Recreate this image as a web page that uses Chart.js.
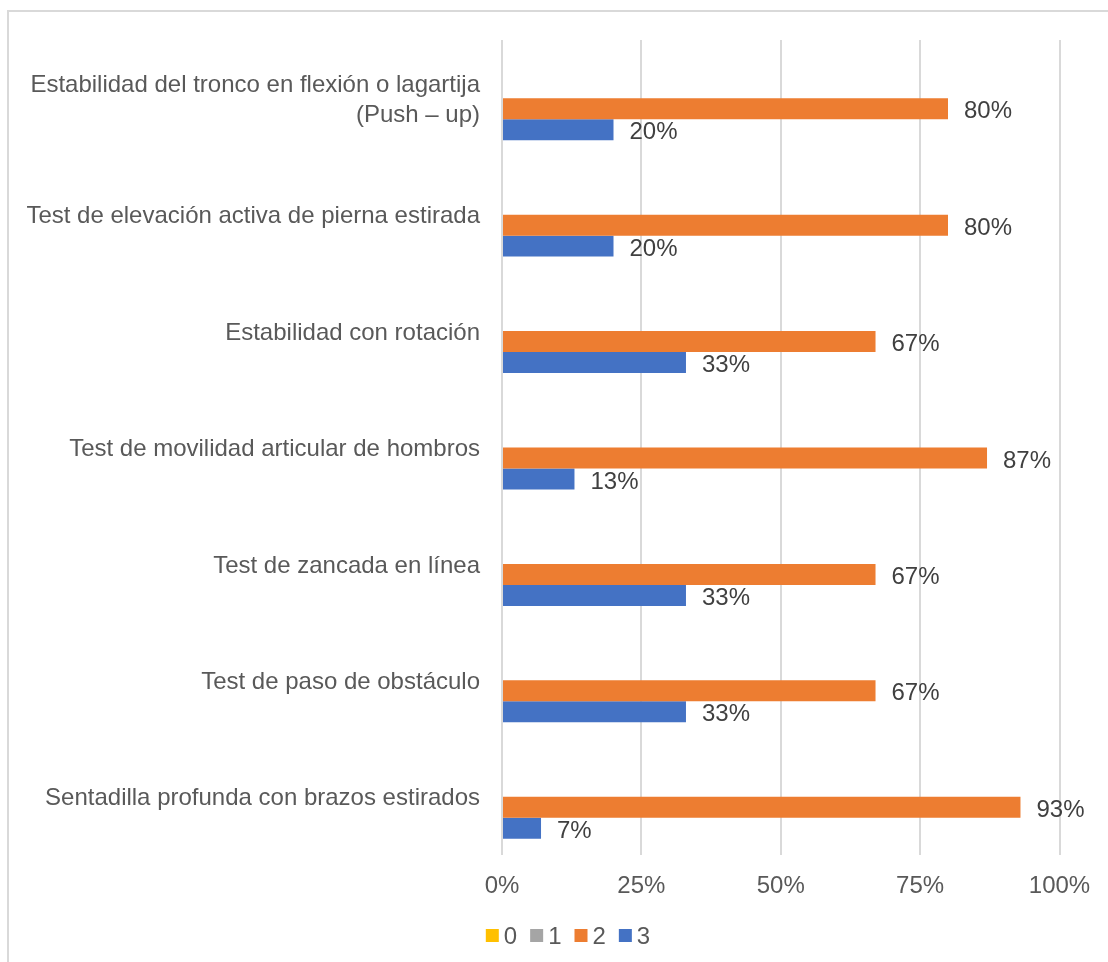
<!DOCTYPE html>
<html>
<head>
<meta charset="utf-8">
<script src="https://cdn.jsdelivr.net/npm/chart.js@4/dist/chart.umd.min.js"></script>
<style>
  html, body { margin: 0; padding: 0; background: #fff; overflow: hidden; }
  #wrap { position: relative; width: 1108px; height: 962px; }
  #frame { position: absolute; left: 7px; top: 10px; width: 1200px; height: 1000px;
           border-left: 2px solid #d9d9d9; border-top: 2px solid #d9d9d9; box-sizing: border-box; }
  canvas { position: absolute; left: 0; top: 0; }
</style>
</head>
<body>
<div id="wrap">
  <div id="frame"></div>
  <canvas id="c" width="1108" height="962"></canvas>
</div>
<script>
// Movement screen tests
const categories = [
  ['Estabilidad del tronco en flexión o lagartija', '(Push – up)'],
  'Test de elevación activa de pierna estirada',
  'Estabilidad con rotación',
  'Test de movilidad articular de hombros',
  'Test de zancada en línea',
  'Test de paso de obstáculo',
  'Sentadilla profunda con brazos estirados'
];

// Share of participants per score (%)
const score0 = [0, 0, 0, 0, 0, 0, 0];
const score1 = [0, 0, 0, 0, 0, 0, 0];
const score2 = [80, 80, 67, 87, 67, 67, 93];
const score3 = [20, 20, 33, 13, 33, 33, 7];

const seriesNames = ['0', '1', '2', '3'];
const xTicks = [0, 25, 50, 75, 100];

const FONT = '"Liberation Sans", Arial, Helvetica, sans-serif';
const colors = ['#FFC000', '#A5A5A5', '#ED7D31', '#4472C4'];

// Value labels just past the end of each non-zero bar
const valueLabels = {
  id: 'valueLabels',
  afterDatasetsDraw(chart) {
    const ctx = chart.ctx;
    ctx.save();
    ctx.font = '24px ' + FONT;
    ctx.fillStyle = '#404040';
    ctx.textAlign = 'left';
    ctx.textBaseline = 'middle';
    chart.data.datasets.forEach((ds, i) => {
      const meta = chart.getDatasetMeta(i);
      meta.data.forEach((bar, j) => {
        const v = ds.data[j];
        if (!v) return;
        ctx.fillText(v + '%', bar.x + 16, bar.y + 3);
      });
    });
    ctx.restore();
  }
};

// Compact legend row under the axis
const bottomLegend = {
  id: 'bottomLegend',
  afterDraw(chart) {
    const ctx = chart.ctx;
    ctx.save();
    ctx.font = '24px ' + FONT;
    ctx.textBaseline = 'middle';
    ctx.textAlign = 'left';
    const box = 13, gapText = 5, gapItem = 13;
    const items = chart.data.datasets.map(ds => ({ label: ds.label, color: ds.backgroundColor, w: ctx.measureText(ds.label).width }));
    let total = 0;
    items.forEach((it, k) => { total += box + gapText + it.w + (k < items.length - 1 ? gapItem : 0); });
    let x = 568 - total / 2;
    const cy = 935.5;
    items.forEach(it => {
      ctx.fillStyle = it.color;
      ctx.fillRect(x, cy - box / 2, box, box);
      x += box + gapText;
      ctx.fillStyle = '#595959';
      ctx.fillText(it.label, x, cy + 2);
      x += it.w + gapItem;
    });
    ctx.restore();
  }
};

const seriesData = [score0, score1, score2, score3];

new Chart(document.getElementById('c'), {
  type: 'bar',
  data: {
    labels: categories,
    datasets: seriesData.map((d, i) => ({
      label: seriesNames[i],
      data: d,
      backgroundColor: colors[i],
      borderWidth: 0,
      categoryPercentage: 0.721,
      barPercentage: 1
    }))
  },
  options: {
    indexAxis: 'y',
    responsive: false,
    animation: false,
    layout: { padding: { top: 40, right: 48.5, left: 0, bottom: 0 } },
    plugins: {
      legend: { display: false },
      tooltip: { enabled: false }
    },
    scales: {
      x: {
        min: 0, max: 100,
        afterBuildTicks(scale) { scale.ticks = xTicks.map(v => ({ value: v })); },
        afterFit(scale) { scale.height = 107; },
        grid: { color: '#d9d9d9', lineWidth: 2, drawTicks: false },
        border: { display: false },
        ticks: {
          padding: 17,
          color: '#595959',
          font: { family: FONT, size: 24 },
          maxRotation: 0,
          callback: v => v + '%'
        }
      },
      y: {
        afterFit(scale) { scale.width = 502; },
        grid: { display: false, drawTicks: false },
        border: { display: false },
        ticks: {
          padding: 22,
          labelOffset: 2,
          color: '#595959',
          font: { family: FONT, size: 24, lineHeight: 1.25 }
        }
      }
    }
  },
  plugins: [valueLabels, bottomLegend]
});
</script>
</body>
</html>
